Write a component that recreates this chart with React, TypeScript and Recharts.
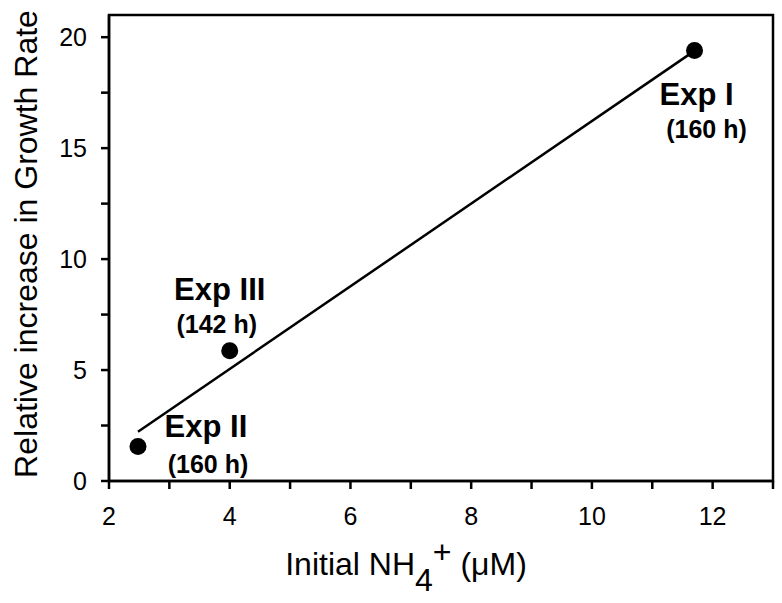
import { ScatterChart, Scatter, XAxis, YAxis, ReferenceArea } from 'recharts'

const expNames = ['Exp I', 'Exp II', 'Exp III']
const expHours = ['(160 h)', '(160 h)', '(142 h)']
const initialNH4 = [11.7, 2.48, 4.0]
const growthIncrease = [19.4, 1.55, 5.87]

// regression line end points
const fitX = [2.48, 11.68]
const fitY = [2.22, 19.35]

const xTicks = [2, 3, 4, 5, 6, 7, 8, 9, 10, 11, 12, 13]
const xTickLabels = [2, 4, 6, 8, 10, 12]
const yTicks = [0, 2.5, 5, 7.5, 10, 12.5, 15, 17.5, 20]
const yTickLabels = [0, 5, 10, 15, 20]

const points = expNames.map((name, i) => ({
  name,
  hours: expHours[i],
  x: initialNH4[i],
  y: growthIncrease[i],
}))
const fitLine = fitX.map((x, i) => ({ x, y: fitY[i] }))

// where the two label lines sit relative to each dot
const labelOffsets: Record<string, { tx: number; ty: number; sx: number; sy: number }> = {
  'Exp I': { tx: 2, ty: 54, sx: 12, sy: 87 },
  'Exp II': { tx: 68, ty: -10, sx: 70, sy: 26 },
  'Exp III': { tx: -10, ty: -51, sx: -13, sy: -18 },
}

const FONT = '"Liberation Sans", Arial, sans-serif'

function ExpDot(props: any) {
  const { cx, cy, payload } = props
  const o = labelOffsets[payload.name]
  return (
    <g>
      <circle cx={cx} cy={cy} r={8.5} fill="#000" />
      <text x={cx + o.tx} y={cy + o.ty} textAnchor="middle" fontSize={31} fontWeight="bold" fontFamily={FONT} fill="#000">
        {payload.name}
      </text>
      <text x={cx + o.sx} y={cy + o.sy} textAnchor="middle" fontSize={25} fontWeight="bold" fontFamily={FONT} fill="#000">
        {payload.hours}
      </text>
    </g>
  )
}

function XTitle(props: any) {
  const { viewBox } = props
  const cx = viewBox.x + viewBox.width / 2 - 35
  return (
    <text x={cx} y={575} textAnchor="middle" fontSize={32} fontFamily={FONT} fill="#000">
      Initial NH
      <tspan dy={16}>4</tspan>
      <tspan dy={-28}>+</tspan>
      <tspan dy={12}> (μM)</tspan>
    </text>
  )
}

function YTitle(props: any) {
  const { viewBox } = props
  const cx = viewBox.x + 37
  const cy = viewBox.y + viewBox.height / 2 - 4
  return (
    <text x={cx} y={cy} transform={`rotate(-90, ${cx}, ${cy})`} textAnchor="middle" fontSize={32} fontFamily={FONT} fill="#000">
      Relative increase in Growth Rate
    </text>
  )
}

export default function App() {
  return (
    <div style={{ fontFamily: FONT }}>
      <style>{`body{margin:0}`}</style>
      <ScatterChart width={782} height={603} margin={{ top: 15, right: 9, bottom: 0, left: 0 }}>
        <XAxis
          type="number"
          dataKey="x"
          domain={[2, 13]}
          ticks={xTicks}
          interval={0}
          allowDataOverflow
          height={122}
          tickSize={8}
          tickMargin={18}
          tickFormatter={(v: number) => (xTickLabels.includes(v) ? String(v) : '')}
          tick={{ fontSize: 25, fill: '#000', fontFamily: FONT }}
          axisLine={{ stroke: '#000', strokeWidth: 2.5 }}
          tickLine={{ stroke: '#000', strokeWidth: 2.5 }}
          label={<XTitle />}
        />
        <YAxis
          type="number"
          dataKey="y"
          domain={[0, 21]}
          ticks={yTicks}
          interval={0}
          allowDataOverflow
          width={109}
          tickSize={8}
          tickMargin={14}
          tickFormatter={(v: number) => (yTickLabels.includes(v) ? String(v) : '')}
          tick={{ fontSize: 25, fill: '#000', fontFamily: FONT }}
          axisLine={{ stroke: '#000', strokeWidth: 2.5 }}
          tickLine={{ stroke: '#000', strokeWidth: 2.5 }}
          label={<YTitle />}
        />
        <ReferenceArea x1={2} x2={13} y1={0} y2={21} fill="none" stroke="#000" strokeWidth={2.5} />
        <Scatter
          data={fitLine}
          line={{ stroke: '#000', strokeWidth: 2.5 }}
          shape={() => <g />}
          isAnimationActive={false}
        />
        <Scatter data={points} shape={<ExpDot />} isAnimationActive={false} />
      </ScatterChart>
    </div>
  )
}
